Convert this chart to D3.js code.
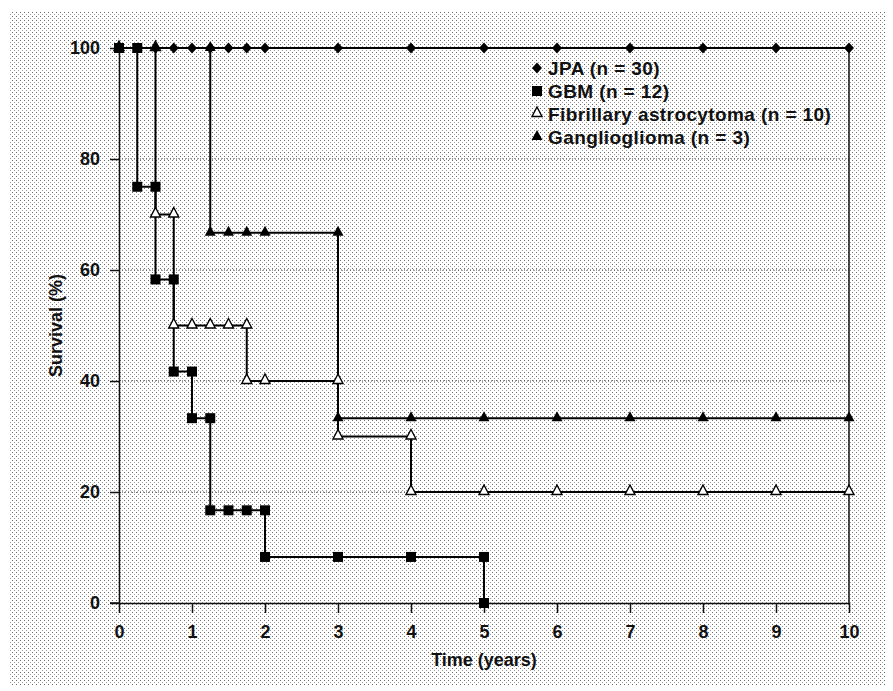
<!DOCTYPE html>
<html><head><meta charset="utf-8">
<script src="https://cdn.jsdelivr.net/npm/d3@7"></script>
<style>
html,body{margin:0;padding:0;background:#fff;}
svg{display:block;}
text{font-family:"Liberation Sans",Arial,Helvetica,sans-serif;font-weight:bold;fill:#111;}
</style></head>
<body><svg id="c" width="893" height="691"></svg>
<script>
// ---- data ----
const xTicks = [0,1,2,3,4,5,6,7,8,9,10];
const yTicks = [0,20,40,60,80,100];
const gridLevels = [20,40,60,80];
const seriesNames = ["JPA (n = 30)","GBM (n = 12)","Fibrillary astrocytoma (n = 10)","Ganglioglioma (n = 3)"];
const seriesSymbols = ["diamond","square","triangleOpen","triangle"];
// step points (time in years, survival %)
const jpaTime = [0,0.25,0.5,0.75,1,1.25,1.5,1.75,2,3,4,5,6,7,8,9,10];
const jpaSurv = [100,100,100,100,100,100,100,100,100,100,100,100,100,100,100,100,100];
const gbmTime = [0,0.25,0.5,0.75,1,1.25,1.5,1.75,2,3,4,5];
const gbmSurv = [100,75,58.3,41.7,33.3,16.7,16.7,16.7,8.3,8.3,8.3,0];
const fibTime = [0,0.5,0.75,1,1.25,1.5,1.75,2,3,4,5,6,7,8,9,10];
const fibSurv = [100,70,50,50,50,50,40,40,30,20,20,20,20,20,20,20];
const gangTime = [0,1.25,1.5,1.75,2,3,4,5,6,7,8,9,10];
const gangSurv = [100,66.7,66.7,66.7,66.7,33.3,33.3,33.3,33.3,33.3,33.3,33.3,33.3];

const svg = d3.select("#c");
// stipple background
const defs = svg.append("defs");
const pat = defs.append("pattern").attr("id","stip").attr("patternUnits","userSpaceOnUse")
  .attr("width",4).attr("height",4);
pat.append("rect").attr("width",4).attr("height",4).attr("fill","#fff");
pat.append("rect").attr("x",0).attr("y",0).attr("width",1).attr("height",1).attr("fill","#6a6a6a");
pat.append("rect").attr("x",2).attr("y",2).attr("width",1).attr("height",1).attr("fill","#9a9a9a");
svg.append("rect").attr("x",9).attr("y",12).attr("width",876).attr("height",673).attr("fill","url(#stip)");

const x = d3.scaleLinear().domain([0,10]).range([119,849]);
const y = d3.scaleLinear().domain([0,100]).range([603,48]);

// gridlines
svg.append("g").selectAll("line").data(gridLevels).join("line")
  .attr("x1",x(0)).attr("x2",x(10)).attr("y1",d=>y(d)).attr("y2",d=>y(d))
  .attr("stroke","#444").attr("stroke-width",1).attr("stroke-dasharray","1,2");

// axes
const xa = svg.append("g").attr("transform",`translate(0,${y(0)})`)
  .call(d3.axisBottom(x).tickValues(xTicks).tickSize(10).tickSizeOuter(0).tickPadding(12));
const ya = svg.append("g").attr("transform",`translate(${x(0)},0)`)
  .call(d3.axisLeft(y).tickValues(yTicks).tickSize(9).tickSizeOuter(0).tickPadding(10));
[xa,ya].forEach(g=>{
  g.select(".domain").attr("stroke","#111").attr("stroke-width",1.5);
  g.selectAll(".tick line").attr("stroke","#111").attr("stroke-width",1.5);
  g.selectAll(".tick text").attr("font-size",18).attr("font-family",null).attr("fill","#111");
});
// extend x-axis line left to y tick end
svg.append("line").attr("x1",x(0)-9).attr("x2",x(0)).attr("y1",y(0)).attr("y2",y(0)).attr("stroke","#111").attr("stroke-width",1.5);
// right border at 10 years
svg.append("line").attr("x1",x(10)).attr("x2",x(10)).attr("y1",y(100)).attr("y2",y(0)).attr("stroke","#111").attr("stroke-width",1.5);

// axis titles
svg.append("text").attr("x",(x(0)+x(10))/2).attr("y",666).attr("text-anchor","middle").attr("font-size",18).text("Time (years)");
svg.append("text").attr("transform",`translate(62,${(y(0)+y(100))/2}) rotate(-90)`).attr("text-anchor","middle").attr("font-size",18).text("Survival (%)");

// series
function build(times, survs){ return times.map((t,i)=>({t, s:survs[i]})); }
const series = {
  jpa: build(jpaTime,jpaSurv),
  gbm: build(gbmTime,gbmSurv),
  fib: build(fibTime,fibSurv),
  gang: build(gangTime,gangSurv)
};
const symOf = {jpa:"diamond", gbm:"square", fib:"triangleOpen", gang:"triangle"};
const line = d3.line().x(d=>x(d.t)).y(d=>y(d.s)).curve(d3.curveStepAfter);

function markerPts(pts){
  const out=[];
  pts.forEach((p,i)=>{
    if(i>0 && pts[i-1].s!==p.s) out.push({t:p.t, s:pts[i-1].s});
    out.push(p);
  });
  return out;
}
function drawSym(g, kind, cx, cy){
  if(kind==="square"){
    g.append("rect").attr("x",cx-5).attr("y",cy-5).attr("width",10).attr("height",10).attr("fill","#000");
  } else if(kind==="diamond"){
    g.append("path").attr("d",`M${cx},${cy-5.5}L${cx+5},${cy}L${cx},${cy+5.5}L${cx-5},${cy}Z`).attr("fill","#000");
  } else if(kind==="triangle"){
    g.append("path").attr("d",`M${cx},${cy-7}L${cx+5.5},${cy+3}L${cx-5.5},${cy+3}Z`).attr("fill","#000");
  } else {
    g.append("path").attr("d",`M${cx},${cy-7}L${cx+5},${cy+2.5}L${cx-5},${cy+2.5}Z`).attr("fill","#fff").attr("stroke","#000").attr("stroke-width",1.4);
  }
}
const sg = svg.append("g");
["jpa","fib","gang","gbm"].forEach(k=>{
  sg.append("path").attr("d",line(series[k])).attr("fill","none").attr("stroke","#000").attr("stroke-width",2);
});
["fib","gang","jpa","gbm"].forEach(k=>{
  const g = sg.append("g");
  markerPts(series[k]).forEach(p=>drawSym(g, symOf[k], x(p.t), y(p.s)));
});

// legend
const lg = svg.append("g");
seriesNames.forEach((n,i)=>{
  const cy = 68 + i*23;
  drawSym(lg, seriesSymbols[i], 537, cy);
  lg.append("text").attr("x",548).attr("y",cy+6.5).attr("font-size",19).attr("letter-spacing",0.4).text(n);
});
</script></body></html>
